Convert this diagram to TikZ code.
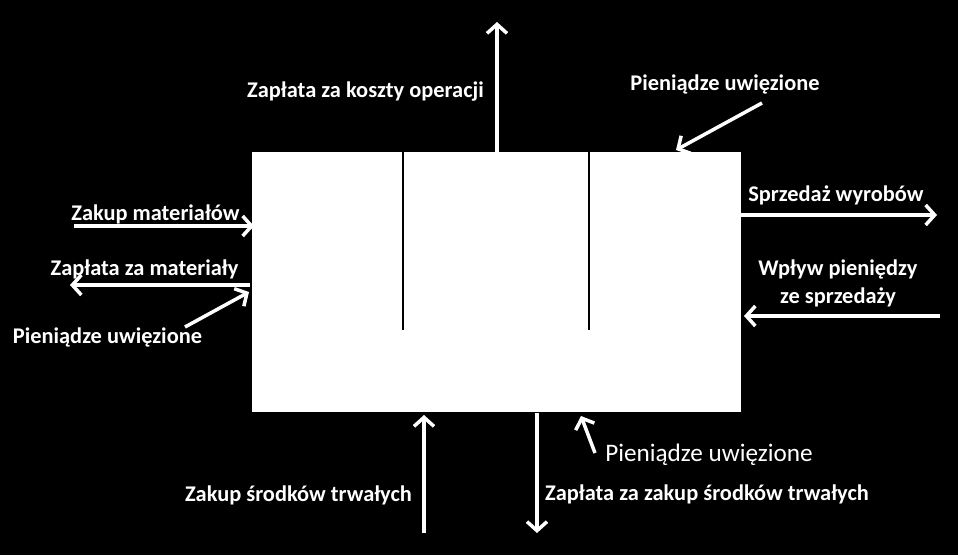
\documentclass[tikz,border=0pt]{standalone}
\usepackage{fontspec}
\setmainfont{Carlito}
\usetikzlibrary{arrows.meta}
\begin{document}
\begin{tikzpicture}[x=1pt,y=-1pt,
  flow/.style={draw=white,line width=3.5pt,-{Straight Barb[length=9pt,width=20pt,line width=3.5pt]}},
  lbl/.style={text=white,font=\fontsize{22.4}{28}\selectfont\bfseries,inner sep=0pt,yshift=-2pt},
  lblr/.style={text=white,font=\fontsize{25.2}{30}\selectfont,inner sep=0pt,yshift=-2pt},
  divider/.style={draw=black,line width=1.5pt}]
\fill[black] (0,0) rectangle (958,555);
\useasboundingbox (0,0) rectangle (958,555);
\node[fill=white,draw=none,minimum width=489pt,minimum height=260pt,inner sep=0pt,anchor=north west] (box) at (252,152) {};
% internal dividers
\coordinate (d1t) at (403,152); \coordinate (d1b) at (403,330);
\coordinate (d2t) at (589,152); \coordinate (d2b) at (589,330);
\draw[divider] (d1t) -- (d1b);
\draw[divider] (d2t) -- (d2b);
% arrow end points
\coordinate (topS) at (497,152); \coordinate (topE) at (497,22);
\coordinate (trS) at (762,103); \coordinate (trE) at (676,150);
\coordinate (r1S) at (741,215); \coordinate (r1E) at (937,215);
\coordinate (r2S) at (940,316); \coordinate (r2E) at (744,316);
\coordinate (l1S) at (74,226); \coordinate (l1E) at (254,226);
\coordinate (l2S) at (250,285); \coordinate (l2E) at (70,285);
\coordinate (l3S) at (185,327); \coordinate (l3E) at (249,292);
\coordinate (b1S) at (424,533); \coordinate (b1E) at (424,415);
\coordinate (b2S) at (537,413); \coordinate (b2E) at (537,533);
\coordinate (b3S) at (595,453); \coordinate (b3E) at (581,416);
\draw[flow] (topS) -- (topE);
\draw[flow] (trS) -- (trE);
\draw[flow] (r1S) -- (r1E);
\draw[flow] (r2S) -- (r2E);
\draw[flow] (l1S) -- (l1E);
\draw[flow] (l2S) -- (l2E);
\draw[flow] (l3S) -- (l3E);
\draw[flow] (b1S) -- (b1E);
\draw[flow] (b2S) -- (b2E);
\draw[flow] (b3S) -- (b3E);
% labels
\node[lbl] (t1) at (365.5,90) {Zapłata za koszty operacji};
\node[lbl] (t2) at (725,82) {Pieniądze uwięzione};
\node[lbl] (t3) at (836,193) {Sprzedaż wyrobów};
\node[lbl,align=center] (t4) at (838,281) {Wpływ pieniędzy\\ze sprzedaży};
\node[lbl] (t5) at (155.5,212) {Zakup materiałów};
\node[lbl] (t6) at (144.5,267) {Zapłata za materiały};
\node[lbl] (t7) at (107.5,335) {Pieniądze uwięzione};
\node[lbl] (t8) at (298.5,493) {Zakup środków trwałych};
\node[lbl] (t9) at (707,492) {Zapłata za zakup środków trwałych};
\node[lblr] (t10) at (709,453) {Pieniądze uwięzione};
\end{tikzpicture}
\end{document}
